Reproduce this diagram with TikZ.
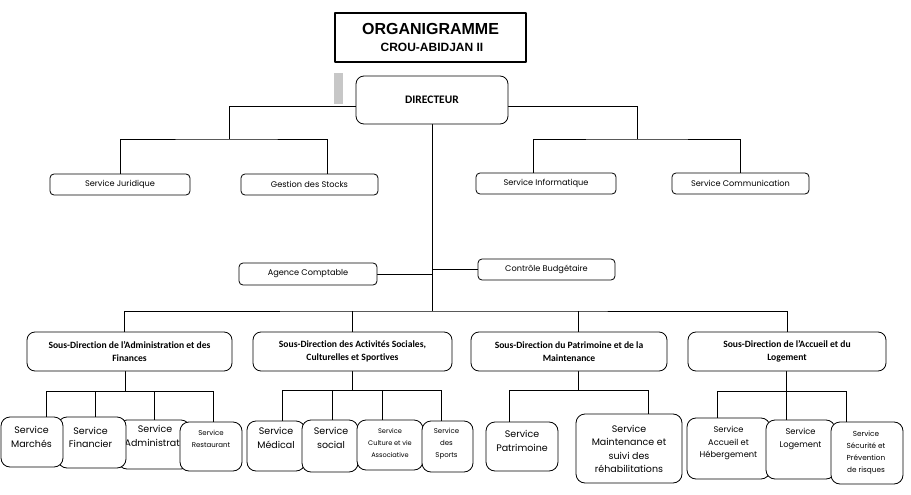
\documentclass[tikz,border=0pt]{standalone}
\usepackage{fontspec}
\setmainfont[Ligatures=NoCommon]{Carlito}
\newfontfamily\gothic{Poppins}
\newfontfamily\arialf{Liberation Sans}
\usetikzlibrary{calc}
\pgfdeclarelayer{bg}
\pgfsetlayers{bg,main}
\tikzset{
	box/.style={draw, fill=white, line width=0.8pt, inner sep=0pt},
	svctop/.style={box, rounded corners=4pt, minimum height=21,
			font=\gothic\fontsize{8.2}{9}\selectfont},
	sdir/.style={box, rounded corners=8pt, minimum height=39, align=center,
			font=\bfseries\fontsize{9.6}{13.5}\selectfont},
	unit/.style={box, rounded corners=9pt},
	lbl/.style={align=center, inner sep=0pt},
	lblL/.style={lbl, font=\gothic\fontsize{9.5}{13.5}\selectfont},
	lblM/.style={lbl, font=\gothic\fontsize{8.3}{12.5}\selectfont},
	lblS/.style={lbl, font=\gothic\fontsize{7}{12}\selectfont},
	link/.style={line width=0.8pt}
}

\begin{document}
\begin{tikzpicture}[x=1pt, y=-1pt, line cap=round, line join=round]
    \useasboundingbox (0,0) rectangle (911,495);

    % title
    \node[draw, line width=1.8pt, inner sep=0pt, minimum width=191, minimum height=49] (title) at (430.5,37.5) {};
    \node[font=\arialf\bfseries\fontsize{16}{18}\selectfont, inner sep=0pt] (titleA) at (430.5,28.5) {ORGANIGRAMME};
    \node[font=\arialf\bfseries\fontsize{12}{14}\selectfont, inner sep=0pt] (titleB) at (432,47.5) {CROU-ABIDJAN II};
    \fill[black!22] (334,73) rectangle (343,104);

    \node[box, rounded corners=8pt, minimum width=152, minimum height=48,
          font=\bfseries\fontsize{11.5}{13}\selectfont] (dir) at (432,100) {DIRECTEUR};

    % services attached to the director
    \node[svctop, minimum width=140] (jur)   at (120,184.5)   {Service Juridique};
    \node[svctop, minimum width=137] (stock) at (309.5,184.5) {Gestion des Stocks};
    \node[svctop, minimum width=140] (info)  at (546,183.5)   {Service Informatique};
    \node[svctop, minimum width=137] (comm)  at (740.5,183.5) {Service Communication};
    \node[svctop, minimum width=138, minimum height=22] (agence) at (308,274)   {Agence Comptable};
    \node[svctop, minimum width=137] (budget) at (546.5,269.5) {Contrôle Budgétaire};

    % sous-directions
    \node[sdir, minimum width=205] (sdA) at (129.5,351.5) {Sous-Direction de l’Administration et des\\Finances};
    \node[sdir, minimum width=199] (sdB) at (352.5,351.5) {Sous-Direction des Activités Sociales,\\Culturelles et Sportives};
    \node[sdir, minimum width=196] (sdC) at (569,351.5)   {Sous-Direction du Patrimoine et de la\\Maintenance};
    \node[sdir, minimum width=198] (sdD) at (787,351.5)   {Sous-Direction de l’Accueil et du\\Logement};

    % services of the sous-directions
    \node[unit, minimum width=72, minimum height=49] (admin) at (154,444.5) {};
    \node[lblL] (adminT) at (155,436) {Service\\Administratif};
    \node[unit, minimum width=62, minimum height=49] (resto) at (211,446.5) {};
    \node[lblS] (restoT) at (211,439) {Service\\Restaurant};
    \node[unit, minimum width=68, minimum height=51] (financier) at (92,442.5) {};
    \node[lblL] (financierT) at (90.5,437.5) {Service\\Financier};
    \node[unit, minimum width=62, minimum height=50] (marches) at (32,442) {};
    \node[lblL] (marchesT) at (31.5,437) {Service\\Marchés};

    \node[unit, minimum width=58, minimum height=50] (medical) at (276,446) {};
    \node[lblL] (medicalT) at (276,438) {Service\\Médical};
    \node[unit, minimum width=56, minimum height=52] (social) at (330,446) {};
    \node[lblL] (socialT) at (331,438) {Service\\social};
    \node[unit, minimum width=66, minimum height=50] (culture) at (390,445) {};
    \node[lblS, font=\gothic\fontsize{6.6}{12}\selectfont] (cultureT) at (390,443) {Service\\Culture et vie\\Associative};
    \node[unit, minimum width=51, minimum height=51] (sports) at (447.5,446.5) {};
    \node[lblS] (sportsT) at (446.5,444) {Service\\des\\Sports};

    \node[unit, minimum width=72, minimum height=49] (patrimoine) at (522,446.5) {};
    \node[lblL] (patrimoineT) at (522,441) {Service\\Patrimoine};
    \node[unit, minimum width=106, minimum height=69] (maint) at (629,448.5) {};
    \node[lblL] (maintT) at (629,449) {Service\\Maintenance et\\suivi des\\réhabilitations};

    \node[unit, minimum width=83, minimum height=61] (accueil) at (728.5,448.5) {};
    \node[lblM] (accueilT) at (728.5,443) {Service\\Accueil et\\Hébergement};
    \node[unit, minimum width=69, minimum height=59] (logement) at (800.5,449.5) {};
    \node[lblM] (logementT) at (800.5,439) {Service\\Logement};
    \node[unit, minimum width=72, minimum height=62] (securite) at (867,453) {};
    \node[lblS, font=\gothic\fontsize{7.3}{12}\selectfont] (securiteT) at (866,453) {Service\\Sécurité et\\Prévention\\de risques};

    % connectors
    \coordinate (lKnee) at (229,106);
    \coordinate (lBus)  at (229,139);
    \coordinate (rKnee) at (637,106);
    \coordinate (rBus)  at (637,139);
    \coordinate (stockIn) at (327,174);
    \coordinate (infoIn)  at (533,173);
    \coordinate (mBus)  at (432,311);
    \coordinate (sdAIn) at (124,332);
    \coordinate (sdCIn) at (578,332);
    \coordinate (aBus) at (125,391);
    \coordinate (bBus) at (352,390);
    \coordinate (cBus) at (578,390);
    \coordinate (dBus) at (786,391);

    \begin{pgfonlayer}{bg}
      \draw[link] (dir.west |- lKnee) -- (lKnee) -- (lBus);
      \draw[link] (jur.north) |- (lBus) -| (stockIn);
      \draw[link] (dir.east |- rKnee) -- (rKnee) -- (rBus);
      \draw[link] (infoIn) |- (rBus) -| (comm.north);

      \draw[link] (dir.south) -- (mBus);
      \draw[link] (agence.east) -- (agence.east -| dir.south);
      \draw[link] (budget.west) -- (budget.west -| dir.south);
      \draw[link] (sdAIn) |- (mBus) -| (sdD.north);
      \draw[link] (sdB.north) -- (sdB.north |- mBus);
      \draw[link] (sdCIn) -- (sdCIn |- mBus);

      \draw[link] (sdA.south -| aBus) -- (aBus);
      \draw[link] (46,391) -- (213,391);
      \foreach \x/\n in {46/marches, 95/financier, 154/admin, 213/resto}
        \draw[link] (\x,391) -- (\n.north -| \x,0);

      \draw[link] (sdB.south -| bBus) -- (bBus);
      \draw[link] (282,390) -- (441,390);
      \foreach \x/\n in {282/medical, 332/social, 382/culture, 441/sports}
        \draw[link] (\x,390) -- (\n.north -| \x,0);

      \draw[link] (sdC.south -| cBus) -- (cBus);
      \draw[link] (509,390) -- (648,390);
      \foreach \x/\n in {509/patrimoine, 648/maint}
        \draw[link] (\x,390) -- (\n.north -| \x,0);

      \draw[link] (sdD.south -| dBus) -- (dBus);
      \draw[link] (717,391) -- (846,391);
      \foreach \x/\n in {717/accueil, 786/logement, 846/securite}
        \draw[link] (\x,391) -- (\n.north -| \x,0);
    \end{pgfonlayer}
\end{tikzpicture}
\end{document}
